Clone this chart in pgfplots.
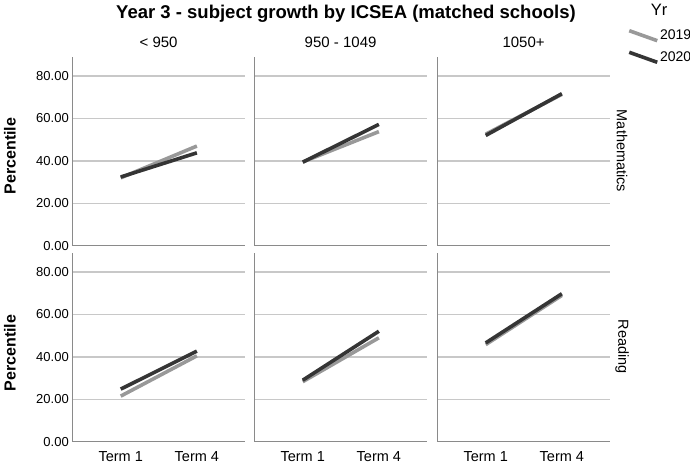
\documentclass[border=0pt]{standalone}
\usepackage{pgfplots}
\pgfplotsset{compat=1.18}
\usepackage{fontspec}
\setmainfont{Liberation Sans}

\definecolor{lightline}{HTML}{999999}
\definecolor{darkline}{HTML}{353535}
\definecolor{gridgray}{HTML}{C8C8C8}
\definecolor{axisgray}{HTML}{8A8A8A}

\pgfplotsset{
  panel/.style={
    scale only axis, width=173pt, height=188.7pt,
    xmin=-0.636, xmax=1.636, ymin=0, ymax=89,
    axis x line*=bottom, axis y line*=left,
    axis line style={draw=axisgray, line width=1.2pt, -},
    xtick={0,1}, ytick={0,20,40,60,80},
    major tick length=0pt,
    ymajorgrids, major grid style={draw=gridgray, line width=1.3pt},
    /pgf/number format/assume math mode=true,
    yticklabel style={font=\fontsize{13}{15}\selectfont,
      /pgf/number format/.cd, fixed, fixed zerofill, precision=2},
    xticklabel style={font=\fontsize{14.5}{16}\selectfont, yshift=-6pt},
    xticklabels={}, yticklabels={},
    clip=false,
  },
  y2019/.style={draw=lightline, line width=3.6pt},
  y2020/.style={draw=darkline, line width=3.6pt},
}

\begin{document}
\begin{tikzpicture}
\useasboundingbox (0,0) rectangle (690pt,463pt);

% top row: Mathematics
\begin{axis}[panel, at={(72.3pt,217.3pt)}, anchor=south west,
  yticklabels={0.00,20.00,40.00,60.00,80.00}]
\addplot[y2019] coordinates {(0,32.0) (1,47.0)};
\addplot[y2020] coordinates {(0,32.4) (1,43.8)};
\end{axis}
\begin{axis}[panel, at={(254.3pt,217.3pt)}, anchor=south west]
\addplot[y2019] coordinates {(0,39.5) (1,53.8)};
\addplot[y2020] coordinates {(0,39.4) (1,57.2)};
\end{axis}
\begin{axis}[panel, at={(437.3pt,217.3pt)}, anchor=south west,
  legend style={at={(1.098,1.15)}, anchor=north west, draw=none, fill=none,
    font=\fontsize{14}{16}\selectfont, row sep=8pt, inner sep=0pt,
    nodes={inner sep=1pt}},
  legend image code/.code={\draw[#1] (0pt,5pt) -- (28pt,-5pt);},
  legend cell align=left]
\addplot[y2019] coordinates {(0,52.6) (1,71.4)};
\addplot[y2020] coordinates {(0,52.0) (1,71.7)};
\legend{2019,2020}
\end{axis}

% bottom row: Reading
\begin{axis}[panel, at={(72.3pt,21.3pt)}, anchor=south west,
  yticklabels={0.00,20.00,40.00,60.00,80.00}, xticklabels={Term 1,Term 4}]
\addplot[y2019] coordinates {(0,21.5) (1,40.5)};
\addplot[y2020] coordinates {(0,24.8) (1,42.7)};
\end{axis}
\begin{axis}[panel, at={(254.3pt,21.3pt)}, anchor=south west,
  xticklabels={Term 1,Term 4}]
\addplot[y2019] coordinates {(0,28.3) (1,49.0)};
\addplot[y2020] coordinates {(0,29.0) (1,52.1)};
\end{axis}
\begin{axis}[panel, at={(437.3pt,21.3pt)}, anchor=south west,
  xticklabels={Term 1,Term 4}]
\addplot[y2019] coordinates {(0,45.8) (1,69.0)};
\addplot[y2020] coordinates {(0,46.6) (1,69.8)};
\end{axis}

% titles and strip labels
\node[font=\bfseries\fontsize{18.5}{21}\selectfont] at (346pt,449pt)
  {Year 3 - subject growth by ICSEA (matched schools)};
\node[font=\fontsize{16.5}{18}\selectfont] at (659pt,453pt) {Yr};
\foreach \x/\t in {158.6/{< 950},340.6/{950 - 1049},523.6/{1050+}}
  \node[font=\fontsize{15}{17}\selectfont] at (\x pt,421pt) {\t};
\node[rotate=-90, font=\fontsize{14.5}{17}\selectfont] at (622pt,312pt) {Mathematics};
\node[rotate=-90, font=\fontsize{14.5}{17}\selectfont] at (622pt,116pt) {Reading};
\node[rotate=90, font=\bfseries\fontsize{16}{18}\selectfont] at (10pt,307pt) {Percentile};
\node[rotate=90, font=\bfseries\fontsize{16}{18}\selectfont] at (10pt,110pt) {Percentile};
\end{tikzpicture}
\end{document}
